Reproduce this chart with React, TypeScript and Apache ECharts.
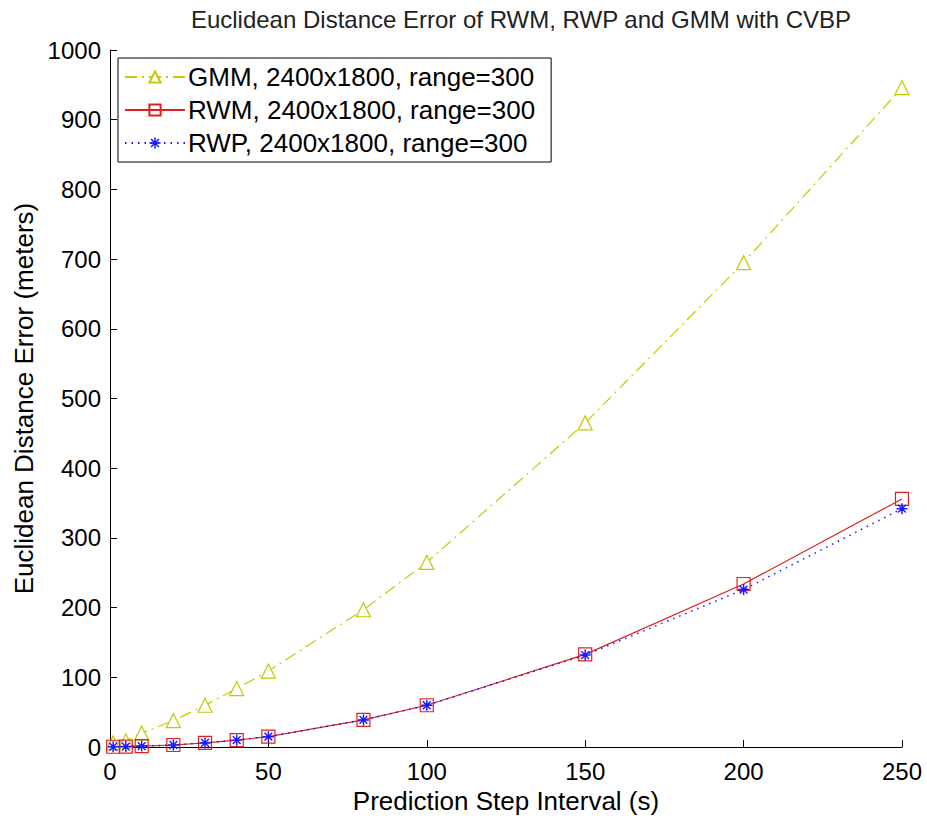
import React, { useEffect, useRef } from "react";
import * as echarts from "echarts";

const steps = [1, 5, 10, 20, 30, 40, 50, 80, 100, 150, 200, 250];
const gmm = [6, 9, 20, 38, 60, 84, 109, 197, 265, 465, 695, 946];
const rwm = [0.5, 0.8, 1.5, 3, 6, 10, 15, 39, 60, 133, 234, 356];
const rwp = [0.5, 0.8, 1.5, 3, 6, 10, 15, 39, 60, 132, 226, 342];
const xTicks = [0, 50, 100, 150, 200, 250];
const yTicks = [0, 100, 200, 300, 400, 500, 600, 700, 800, 900, 1000];

const FONT = "'Liberation Sans', Arial, sans-serif";
const ASTERISK =
  "path://M-0.8,-6L0.8,-6L0.8,6L-0.8,6Z M-6,-0.8L6,-0.8L6,0.8L-6,0.8Z M-4.8,-3.7L-3.7,-4.8L4.8,3.7L3.7,4.8Z M3.7,-4.8L4.8,-3.7L-3.7,4.8L-4.8,3.7Z";

export default function App() {
  const ref = useRef<HTMLDivElement>(null);
  useEffect(() => {
    if (!ref.current) return;
    const chart = echarts.init(ref.current, undefined, { renderer: "svg" });
    const pairs = (ys: number[]) => steps.map((x, i) => [x, ys[i]]);
    chart.setOption({
      animation: false,
      backgroundColor: "#ffffff",
      textStyle: { fontFamily: FONT },
      graphic: [
        {
          type: "text",
          x: 521,
          y: 19,
          style: {
            text: "Euclidean Distance Error of RWM, RWP and GMM with CVBP",
            fontFamily: FONT,
            fontSize: 24,
            fill: "#222",
            textAlign: "center",
            textVerticalAlign: "middle",
          },
        },
      ],
      grid: { left: 110, right: 25, top: 50, bottom: 69 },
      legend: {
        orient: "vertical",
        left: 118,
        top: 58,
        padding: [6, 16, 6, 6],
        itemGap: 7,
        itemWidth: 60,
        itemHeight: 14,
        backgroundColor: "#fff",
        borderColor: "#000",
        borderWidth: 1,
        borderRadius: 0,
        textStyle: { fontFamily: FONT, fontSize: 26, color: "#000", padding: [0, 0, 0, -2] },
        data: [
          "GMM, 2400x1800, range=300",
          "RWM, 2400x1800, range=300",
          "RWP, 2400x1800, range=300",
        ],
      },
      xAxis: {
        type: "value",
        min: 0,
        max: 250,
        interval: 50,
        name: "Prediction Step Interval (s)",
        nameLocation: "middle",
        nameGap: 34,
        nameTextStyle: { fontFamily: FONT, fontSize: 26, color: "#000" },
        axisLine: { onZero: false, lineStyle: { color: "#000", width: 1 } },
        axisTick: { inside: true, length: 7, lineStyle: { color: "#000" } },
        axisLabel: {
          fontFamily: FONT,
          fontSize: 24,
          color: "#000",
          margin: 12,
          formatter: (v: number) => (xTicks.includes(v) ? String(v) : ""),
        },
        splitLine: { show: false },
      },
      yAxis: {
        type: "value",
        min: 0,
        max: 1000,
        interval: 100,
        name: "Euclidean Distance Error (meters)",
        nameLocation: "middle",
        nameGap: 72,
        nameTextStyle: { fontFamily: FONT, fontSize: 26, color: "#000" },
        axisLine: { show: true, onZero: false, lineStyle: { color: "#000", width: 1 } },
        axisTick: { show: true, inside: true, length: 7, lineStyle: { color: "#000" } },
        axisLabel: {
          fontFamily: FONT,
          fontSize: 24,
          color: "#000",
          margin: 9,
          formatter: (v: number) => (yTicks.includes(v) ? String(v) : ""),
        },
        splitLine: { show: false },
      },
      series: [
        {
          name: "GMM, 2400x1800, range=300",
          type: "line",
          data: pairs(gmm),
          symbol: "triangle",
          symbolSize: 14,
          smooth: false,
          lineStyle: { color: "#c8c800", width: 1.2, type: [12, 5, 2, 5] },
          itemStyle: { color: "#ffffff", borderColor: "#c8c800", borderWidth: 1.2 },
          z: 2,
        },
        {
          name: "RWM, 2400x1800, range=300",
          type: "line",
          data: pairs(rwm),
          symbol: "rect",
          symbolSize: 13,
          lineStyle: { color: "#e02020", width: 1.2, type: "solid" },
          itemStyle: { color: "rgba(255,255,255,0)", borderColor: "#e02020", borderWidth: 1.2 },
          z: 3,
        },
        {
          name: "RWP, 2400x1800, range=300",
          type: "line",
          data: pairs(rwp),
          symbol: ASTERISK,
          symbolSize: 11,
          lineStyle: { color: "#1a1aff", width: 1.5, type: [1.5, 5] },
          itemStyle: { color: "#1a1aff" },
          z: 4,
        },
      ],
    });
    return () => chart.dispose();
  }, []);
  return (
    <div
      ref={ref}
      style={{ position: "fixed", left: 0, top: 0, width: 927, height: 819, background: "#fff" }}
    />
  );
}
